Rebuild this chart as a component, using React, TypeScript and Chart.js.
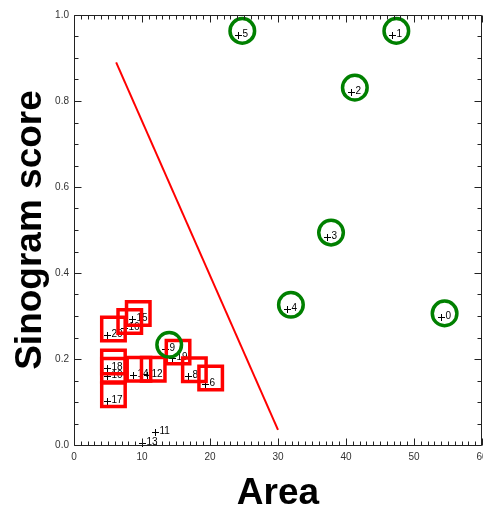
import React, { useEffect, useRef } from "react";
import { Chart, registerables } from "chart.js";

Chart.register(...registerables);

// ---- data ----
// green circled points (selected)
const circleLabels = ["0", "1", "2", "3", "4", "5", "9"];
const circleArea = [54.5, 47.4, 41.3, 37.8, 31.9, 24.75, 14.0];
const circleScore = [0.306, 0.963, 0.831, 0.494, 0.326, 0.963, 0.233];

// red boxed points (rejected)
const boxLabels = ["15", "16", "20", "19", "8", "6", "12", "14", "18", "10", "17"];
const boxArea = [9.45, 8.2, 5.8, 15.3, 17.7, 20.1, 11.65, 9.55, 5.8, 5.8, 5.8];
const boxScore = [0.306, 0.287, 0.27, 0.216, 0.175, 0.156, 0.176, 0.176, 0.193, 0.174, 0.117];

// unmarked points
const plainLabels = ["11", "13"];
const plainArea = [12.65, 10.7];
const plainScore = [0.043, 0.017];

// separating line
const lineArea = [6.2, 30.0];
const lineScore = [0.89, 0.035];

// axes
const xMin = 0;
const xMax = 60;
const xMajor = 10;
const xMinor = 1;
const yMin = 0;
const yMax = 1;
const yMajor = 0.2;
const yMinor = 0.05;
const xTitle = "Area";
const yTitle = "Sinogram score";

const FONT = '"Liberation Sans", Arial, Helvetica, sans-serif';

const toPts = (xs: number[], ys: number[]) => xs.map((x, i) => ({ x, y: ys[i] }));

function drawLabelSet(chart: any, labels: string[], xs: number[], ys: number[], dx: number, dy: number) {
  const ctx = chart.ctx as CanvasRenderingContext2D;
  const sx = chart.scales.x;
  const sy = chart.scales.y;
  ctx.save();
  ctx.strokeStyle = "#000";
  ctx.fillStyle = "#000";
  ctx.lineWidth = 1;
  ctx.font = `10px ${FONT}`;
  ctx.textBaseline = "alphabetic";
  ctx.textAlign = "left";
  labels.forEach((lab, i) => {
    const px = Math.round(sx.getPixelForValue(xs[i]) + dx) + 0.5;
    const py = Math.round(sy.getPixelForValue(ys[i]) + dy) + 0.5;
    ctx.beginPath();
    ctx.moveTo(px - 3.5, py);
    ctx.lineTo(px + 3.5, py);
    ctx.moveTo(px, py - 3.5);
    ctx.lineTo(px, py + 3.5);
    ctx.stroke();
    ctx.fillText(lab, px + 4, py + 1);
  });
  ctx.restore();
}

const labelPlugin = {
  id: "pointLabelsPlus",
  beforeDatasetsDraw(chart: any) {
    drawLabelSet(chart, plainLabels, plainArea, plainScore, -5, 5);
    drawLabelSet(chart, boxLabels, boxArea, boxScore, -6, 6);
    drawLabelSet(chart, circleLabels, circleArea, circleScore, -4, 4);
  },
};

const framePlugin = {
  id: "idlFrame",
  afterDatasetsDraw(chart: any) {
    const ctx = chart.ctx as CanvasRenderingContext2D;
    const { left, right, top, bottom } = chart.chartArea;
    const sx = chart.scales.x;
    const sy = chart.scales.y;
    const L = Math.round(left) + 0.5;
    const R = Math.round(right) - 0.5;
    const T = Math.round(top) + 0.5;
    const B = Math.round(bottom) + 0.5;
    ctx.save();
    ctx.strokeStyle = "#222";
    ctx.lineWidth = 1;
    ctx.beginPath();
    ctx.moveTo(L, T);
    ctx.lineTo(R, T);
    ctx.lineTo(R, B);
    ctx.lineTo(L, B);
    ctx.closePath();
    const nx = Math.round((xMax - xMin) / xMinor);
    const per = Math.round(xMajor / xMinor);
    for (let k = 0; k <= nx; k++) {
      const v = xMin + k * xMinor;
      const px = Math.round(sx.getPixelForValue(v)) + 0.5;
      const len = k % per === 0 ? 7 : 4;
      ctx.moveTo(px, B);
      ctx.lineTo(px, B - len);
      ctx.moveTo(px, T);
      ctx.lineTo(px, T + len);
    }
    const ny = Math.round((yMax - yMin) / yMinor);
    const pery = Math.round(yMajor / yMinor);
    for (let k = 0; k <= ny; k++) {
      const v = yMin + k * yMinor;
      const py = Math.round(sy.getPixelForValue(v)) + 0.5;
      const len = k % pery === 0 ? 7 : 4;
      ctx.moveTo(L, py);
      ctx.lineTo(L + len, py);
      ctx.moveTo(R, py);
      ctx.lineTo(R - len, py);
    }
    ctx.stroke();
    ctx.restore();
  },
};

export default function App() {
  const ref = useRef<HTMLCanvasElement>(null);
  useEffect(() => {
    const canvas = ref.current!;
    const chart = new Chart(canvas, {
      type: "scatter",
      data: {
        datasets: [
          {
            label: "selected",
            data: toPts(circleArea, circleScore),
            pointStyle: "circle",
            pointRadius: 12.3,
            pointHoverRadius: 12.3,
            borderColor: "#008000",
            pointBorderColor: "#008000",
            pointBackgroundColor: "rgba(0,0,0,0)",
            backgroundColor: "rgba(0,0,0,0)",
            pointBorderWidth: 3.5,
            borderWidth: 3.5,
            order: 1,
          } as any,
          {
            label: "rejected",
            data: toPts(boxArea, boxScore),
            pointStyle: "rect",
            pointRadius: 16.6,
            pointHoverRadius: 16.6,
            borderColor: "#ff0000",
            pointBorderColor: "#ff0000",
            pointBackgroundColor: "rgba(0,0,0,0)",
            backgroundColor: "rgba(0,0,0,0)",
            pointBorderWidth: 3.5,
            borderWidth: 3.5,
            order: 2,
          } as any,
          {
            label: "other",
            data: toPts(plainArea, plainScore),
            pointRadius: 0,
            order: 3,
          } as any,
          {
            label: "boundary",
            data: toPts(lineArea, lineScore),
            showLine: true,
            borderColor: "#ff0000",
            borderWidth: 2,
            pointRadius: 0,
            fill: false,
            order: 4,
          } as any,
        ],
      },
      options: {
        animation: false,
        responsive: false,
        devicePixelRatio: 1,
        layout: { autoPadding: false, padding: { top: 15, right: 1, left: 0, bottom: 0 } },
        plugins: { legend: { display: false }, tooltip: { enabled: false } },
        scales: {
          x: {
            type: "linear",
            min: xMin,
            max: xMax,
            ticks: {
              stepSize: xMajor,
              font: { family: FONT, size: 10 },
              color: "#333",
              padding: 6,
              maxRotation: 0,
              autoSkip: false,
            },
            grid: { display: false, drawTicks: false },
            border: { display: false },
            title: {
              display: true,
              text: xTitle,
              color: "#000",
              font: { family: FONT, size: 37, weight: "bold", lineHeight: 1 },
              padding: { top: 0, bottom: 0 },
            },
            afterFit(s: any) {
              s.height = 67;
              s.paddingLeft = 0;
              s.paddingRight = 0;
            },
          } as any,
          y: {
            type: "linear",
            min: yMin,
            max: yMax,
            ticks: {
              stepSize: yMajor,
              font: { family: FONT, size: 10 },
              color: "#333",
              padding: 5,
              callback: (v: any) => Number(v).toFixed(1),
            },
            grid: { display: false, drawTicks: false },
            border: { display: false },
            title: {
              display: true,
              text: yTitle,
              color: "#000",
              font: { family: FONT, size: 37, weight: "bold", lineHeight: 1 },
              padding: { top: 12, bottom: 0 },
            },
            afterFit(s: any) {
              s.width = 74;
              s.paddingTop = 0;
              s.paddingBottom = 0;
            },
          } as any,
        },
      },
      plugins: [labelPlugin, framePlugin],
    });
    return () => chart.destroy();
  }, []);
  return (
    <div style={{ position: "fixed", left: 0, top: 0, width: 483, height: 512, background: "#fff" }}>
      <canvas ref={ref} width={483} height={512} style={{ width: 483, height: 512, display: "block" }} />
    </div>
  );
}
